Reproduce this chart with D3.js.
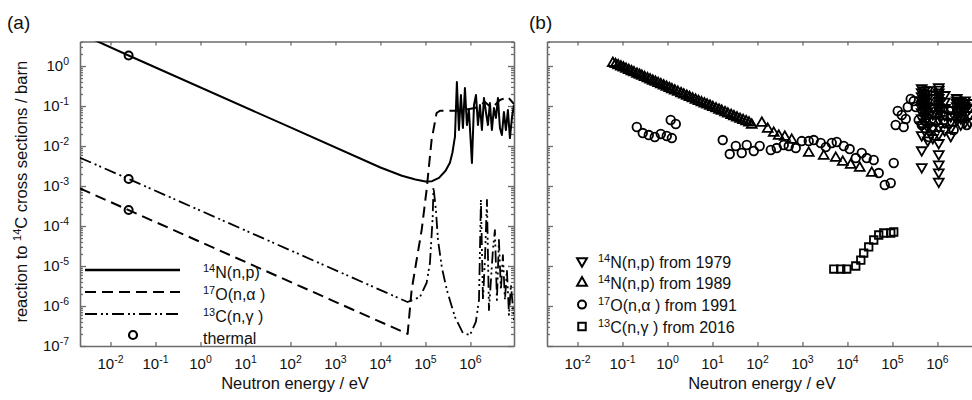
<!DOCTYPE html>
<html>
<head>
<meta charset="utf-8">
<script src="https://cdn.jsdelivr.net/npm/d3@7"></script>
<style>
body { margin: 0; background: #fff; }
svg { font-family: 'Liberation Sans', Arial, sans-serif; }
</style>
</head>
<body>
<script>
// tick exponents (labels are 10^n)
var xTickExps = [-2, -1, 0, 1, 2, 3, 4, 5, 6];
var yTickExps = [0, -1, -2, -3, -4, -5, -6, -7];

// (a) evaluated cross sections, [energy in eV, barn]
var np14Curve = [
	[0.0021, 6.5], [0.0253, 1.83], [100, 0.0291], [1e4, 0.0029], [3e4, 0.0018], [6e4, 0.00145],
	[1e5, 0.0013], [1.4e5, 0.00132], [2e5, 0.0016], [2.8e5, 0.0024], [3.5e5, 0.0038], [4e5, 0.007],
	[4.4e5, 0.014], [4.53e5, 0.0168], [5.0e5, 0.398], [5.55e5, 0.0251], [6.15e5, 0.188], [6.81e5, 0.0282],
	[7.55e5, 0.282], [8.36e5, 0.0335], [9.26e5, 0.0794], [1.08e6, 0.00376], [1.2e6, 0.106], [1.33e6, 0.188],
	[1.47e6, 0.0335], [1.63e6, 0.106], [1.8e6, 0.0251], [2.0e6, 0.158], [2.21e6, 0.0708], [2.45e6, 0.0335],
	[2.71e6, 0.119], [3.0e6, 0.0251], [3.33e6, 0.0891], [3.69e6, 0.0501], [4.09e6, 0.158], [4.53e6, 0.0282],
	[5.0e6, 0.0188], [5.55e6, 0.0708], [6.15e6, 0.0251], [6.81e6, 0.0794], [7.55e6, 0.0158], [8.36e6, 0.0501],
	[9.3e6, 0.106]
];
var na17Curve = [
	[0.0021, 8.7e-4], [0.0253, 2.5e-4], [4.02e4, 2.0e-7], [4.93e4, 2.51e-6], [6.37e4, 1.41e-5],
	[8.24e4, 7.9e-5], [1.06e5, 7.9e-4], [1.37e5, 0.0141], [1.77e5, 0.0668], [2.1e5, 0.076], [5.85e5, 0.076],
	[1.26e6, 0.089], [2.1e6, 0.126], [3.0e6, 0.089], [4.53e6, 0.141], [6.81e6, 0.168], [9.3e6, 0.112]
];
var ng13Curve = [
	[0.0021, 5.1e-3], [0.0253, 1.5e-3], [4.0e4, 1.26e-6], [7.55e4, 1.68e-6], [1.06e5, 3.76e-6],
	[1.26e5, 1.19e-5], [1.45e5, 1.68e-4], [1.51e5, 9.4e-4], [1.71e5, 2.5e-4], [1.9e5, 4.47e-5],
	[2.33e5, 8.9e-6], [3.0e5, 2.5e-6], [4.53e5, 5.3e-7], [6.81e5, 2.1e-7], [9.75e5, 1.88e-7],
	[1.32e6, 4.0e-7], [1.55e6, 1.41e-6], [1.71e6, 4.47e-4], [1.9e6, 1.41e-6], [2.1e6, 1.41e-5],
	[2.33e6, 4.47e-4], [2.58e6, 7.9e-7], [2.86e6, 4.47e-6], [3.16e6, 2.5e-5], [3.5e6, 7.9e-5],
	[3.88e6, 1.41e-6], [4.3e6, 4.47e-5], [4.76e6, 2.5e-6], [5.27e6, 1.88e-5], [5.85e6, 1.41e-6],
	[6.47e6, 7.9e-6], [7.2e6, 6.0e-7], [7.95e6, 3.35e-6], [9.3e6, 4.47e-7]
];
var thermalPoints = [[0.0253, 1.83], [0.0253, 1.5e-3], [0.0253, 2.5e-4]];

// (b) measured data, [energy in eV, barn]
var np1979Columns = [
	[4.48e5, [0.282, 0.224, 0.178, 0.141, 0.112, 0.089, 0.0708, 0.0501, 0.0335, 0.0188, 0.0079, 0.003]],
	[5.2e5, [0.251, 0.2, 0.158, 0.126, 0.1, 0.079, 0.056, 0.04, 0.025]],
	[6.1e5, [0.25, 0.2, 0.16, 0.126, 0.1, 0.075, 0.05, 0.03, 0.014]],
	[7.9e5, [0.089, 0.063, 0.045, 0.028, 0.016]],
	[1.07e6, [0.3, 0.26, 0.22, 0.19, 0.16, 0.135, 0.112, 0.094, 0.079, 0.063, 0.045, 0.03, 0.02, 0.012, 0.0063, 0.0035, 0.0022, 0.0013]],
	[1.45e6, [0.19, 0.13, 0.09, 0.06, 0.04, 0.025]],
	[1.98e6, [0.08, 0.056, 0.04, 0.028, 0.018]],
	[2.69e6, [0.16, 0.14, 0.12, 0.1, 0.08, 0.06, 0.045]],
	[3.3e6, [0.13, 0.1, 0.075, 0.05, 0.035]],
	[4.1e6, [0.14, 0.12, 0.1, 0.08, 0.06, 0.04]],
	[5.2e6, [0.12, 0.09, 0.06, 0.04]]
];
var np1989 = [
	[0.061, 1.18], [0.07, 1.1], [0.08, 1.03], [0.092, 0.96], [0.105, 0.9], [0.12, 0.84], [0.138, 0.783],
	[0.158, 0.732], [0.18, 0.686], [0.21, 0.635], [0.24, 0.594], [0.27, 0.56], [0.31, 0.523], [0.36, 0.485],
	[0.41, 0.454], [0.47, 0.424], [0.54, 0.396], [0.62, 0.37], [0.71, 0.345], [0.82, 0.321], [0.95, 0.299],
	[1.1, 0.277], [1.25, 0.26], [1.45, 0.242], [1.7, 0.223], [2.0, 0.206], [2.3, 0.192], [2.7, 0.177],
	[3.1, 0.165], [3.6, 0.153], [4.2, 0.142], [4.9, 0.131], [5.7, 0.122], [6.6, 0.114], [7.6, 0.107],
	[8.8, 0.1], [10.2, 0.093], [12, 0.086], [14, 0.08], [16, 0.075], [19, 0.069], [22, 0.064], [26, 0.059],
	[30, 0.055], [35, 0.051], [41, 0.047], [48, 0.044], [56, 0.041], [65, 0.038],
	[74.6, 0.0335], [125, 0.0376], [169, 0.0266], [230, 0.0211], [297, 0.0178], [405, 0.0168], [578, 0.0141],
	[1380, 0.00668], [2970, 0.00562], [5500, 0.00501], [7870, 0.00398], [11800, 0.00335], [18750, 0.00282],
	[34700, 0.00211]
];
var na1991 = [
	[0.208, 0.0299], [0.282, 0.0211], [0.384, 0.0188], [0.522, 0.0168], [0.71, 0.02], [0.964, 0.0178],
	[1.25, 0.0158], [1.18, 0.0447], [1.53, 0.0355],
	[16.9, 0.0141], [24.2, 0.0063], [33, 0.01], [44.8, 0.00668], [57.8, 0.0106], [82.8, 0.0075], [112, 0.01],
	[198, 0.00794], [269, 0.0089], [384, 0.0106], [496, 0.01], [710, 0.0089], [964, 0.0133], [1380, 0.0133],
	[1780, 0.0141], [2550, 0.0119], [3300, 0.0094], [4480, 0.0119], [5780, 0.0126], [8280, 0.01],
	[11200, 0.0084], [15300, 0.005], [20800, 0.00668], [26800, 0.005], [38400, 0.00447], [49600, 0.00211],
	[67500, 0.00106], [91700, 0.00119], [107000, 0.00376],
	[1.18e5, 0.0335], [1.31e5, 0.075], [1.61e5, 0.0596], [1.78e5, 0.0299], [1.98e5, 0.0473], [2.19e5, 0.0944],
	[2.55e5, 0.15], [2.97e5, 0.133], [3.3e5, 0.0944], [3.84e5, 0.0447], [4.48e5, 0.0335], [6.41e5, 0.0168],
	[7.47e5, 0.0299], [9.64e5, 0.063], [1.38e6, 0.0447], [1.78e6, 0.079], [2.3e6, 0.025], [3.3e6, 0.05],
	[4.48e6, 0.0335]
];
var ng2016 = [
	[4970, 8.4e-6], [7100, 8.4e-6], [9640, 8.4e-6], [15300, 1.0e-5], [19800, 1.41e-5], [23000, 2.11e-5],
	[29700, 2.99e-5], [38400, 4.47e-5], [49600, 5.96e-5], [64100, 6.68e-5], [91700, 6.68e-5], [107000, 7.08e-5]
];

// legend texts: [superscript, rest]
var legendA = [['14', 'N(n,p)'], ['17', 'O(n,\u03b1 )'], ['13', 'C(n,\u03b3 )'], ['', 'thermal']];
var legendB = [['14', 'N(n,p) from 1979'], ['14', 'N(n,p) from 1989'], ['17', 'O(n,\u03b1 ) from 1991'], ['13', 'C(n,\u03b3 ) from 2016']];

var width = 972, height = 400;
var plotTop = 41.5, plotH = 304.5, plotW = 434;
var axisColor = '#6b6b6b';

var svg = d3
	.select('body')
	.append('svg')
	.attr('width', width)
	.attr('height', height);

var y = d3.scaleLog().domain([1e-7, 4.1]).range([plotTop + plotH, plotTop]);

var minorY = [];
yTickExps.forEach(e => {
	for (var k = 2; k < 10; k++) {
		var v = k * Math.pow(10, e);
		if (v < 4.1) minorY.push(v);
	}
});
var majorX = xTickExps.map(e => Math.pow(10, e));
var majorY = yTickExps.map(e => Math.pow(10, e));

function makePanel(left, id) {
	var x = d3.scaleLog().domain([0.0021, 9.3e6]).range([left, left + plotW]);
	var g = svg.append('g');

	svg.append('clipPath').attr('id', id)
		.append('rect').attr('x', left).attr('y', plotTop).attr('width', plotW).attr('height', plotH);

	// box + inward ticks
	g.append('g').attr('transform', 'translate(0,' + (plotTop + plotH) + ')')
		.call(d3.axisBottom(x).tickValues(majorX).tickSize(-4).tickSizeOuter(0).tickFormat(''));
	g.append('g').attr('transform', 'translate(0,' + plotTop + ')')
		.call(d3.axisTop(x).tickValues(majorX).tickSize(-4).tickSizeOuter(0).tickFormat(''));
	g.append('g').attr('transform', 'translate(' + left + ',0)')
		.call(d3.axisLeft(y).tickValues(majorY).tickSize(-6).tickSizeOuter(0).tickFormat(''));
	g.append('g').attr('transform', 'translate(' + left + ',0)')
		.call(d3.axisLeft(y).tickValues(minorY).tickSize(-3).tickSizeOuter(0).tickFormat(''));
	g.append('g').attr('transform', 'translate(' + (left + plotW) + ',0)')
		.call(d3.axisRight(y).tickValues(majorY).tickSize(-6).tickSizeOuter(0).tickFormat(''));
	g.append('g').attr('transform', 'translate(' + (left + plotW) + ',0)')
		.call(d3.axisRight(y).tickValues(minorY).tickSize(-3).tickSizeOuter(0).tickFormat(''));
	g.selectAll('.domain, .tick line').attr('stroke', axisColor).attr('stroke-width', 1.3);

	// x tick labels 10^n
	var xl = svg.append('g').selectAll('text')
		.data(xTickExps)
		.enter()
		.append('text')
		.attr('x', d => x(Math.pow(10, d)))
		.attr('y', 369)
		.attr('text-anchor', 'middle')
		.style('font-size', '15px')
		.attr('fill', '#111');
	xl.append('tspan').text('10');
	xl.append('tspan').attr('dy', -6).style('font-size', '10.5px').text(d => d);

	svg.append('text')
		.attr('x', left + plotW / 2 - 2)
		.attr('y', 389)
		.attr('text-anchor', 'middle')
		.style('font-size', '16.5px')
		.attr('fill', '#111')
		.text('Neutron energy / eV');

	return x;
}

var xa = makePanel(80, 'clipA');
var xb = makePanel(547, 'clipB');

// y tick labels on (a)
var yl = svg.append('g').selectAll('text')
	.data(yTickExps)
	.enter()
	.append('text')
	.attr('x', 69)
	.attr('y', d => y(Math.pow(10, d)) + 5)
	.attr('text-anchor', 'end')
	.style('font-size', '15px')
	.attr('fill', '#111');
yl.append('tspan').text('10');
yl.append('tspan').attr('dy', -6).style('font-size', '10.5px').text(d => d);

// y axis label
var ylab = svg.append('text')
	.attr('transform', 'translate(27,' + (plotTop + plotH / 2 - 2) + ') rotate(-90)')
	.attr('text-anchor', 'middle')
	.style('font-size', '16.5px')
	.attr('fill', '#111');
ylab.append('tspan').text('reaction to ');
ylab.append('tspan').attr('dy', -6).style('font-size', '11px').text('14');
ylab.append('tspan').attr('dy', 6).text('C cross sections / barn');

// panel letters
svg.append('text').attr('x', 7).attr('y', 29).style('font-size', '19px').attr('fill', '#111').text('(a)');
svg.append('text').attr('x', 529).attr('y', 29).style('font-size', '19px').attr('fill', '#111').text('(b)');

// ---- panel (a) curves
var lineA = d3.line().x(d => xa(d[0])).y(d => y(d[1]));
var styles = [
	{ data: np14Curve, dash: null, w: 2 },
	{ data: na17Curve, dash: '11,6', w: 2 },
	{ data: ng13Curve, dash: '12,4,2,3,2,4', w: 1.8 }
];
var curves = svg.append('g').attr('clip-path', 'url(#clipA)');
styles.forEach(s => {
	curves.append('path')
		.attr('d', lineA(s.data))
		.attr('fill', 'none')
		.attr('stroke', '#000')
		.attr('stroke-width', s.w)
		.attr('stroke-linejoin', 'round')
		.attr('stroke-dasharray', s.dash);
});
curves.selectAll('circle')
	.data(thermalPoints)
	.enter()
	.append('circle')
	.attr('cx', d => xa(d[0]))
	.attr('cy', d => y(d[1]))
	.attr('r', 4)
	.attr('fill', 'none')
	.attr('stroke', '#000')
	.attr('stroke-width', 2);

// legend (a)
var legA = svg.append('g');
legendA.forEach((d, i) => {
	var cy = 270 + i * 22;
	if (i < 3) {
		legA.append('line')
			.attr('x1', 85).attr('x2', 180).attr('y1', cy).attr('y2', cy)
			.attr('stroke', '#000')
			.attr('stroke-width', i == 0 ? 2.5 : 2.2)
			.attr('stroke-dasharray', styles[i].dash);
	} else {
		legA.append('circle').attr('cx', 133).attr('cy', cy - 1).attr('r', 4)
			.attr('fill', 'none').attr('stroke', '#000').attr('stroke-width', 2.2);
	}
	var t = legA.append('text').attr('x', 203).attr('y', cy + 7.5).style('font-size', '16px').attr('fill', '#111');
	if (d[0]) {
		t.append('tspan').attr('dy', -6).style('font-size', '11px').text(d[0]);
		t.append('tspan').attr('dy', 6).text(d[1]);
	} else {
		t.text(d[1]);
	}
});

// ---- panel (b) markers
var tri = d3.symbol().type(d3.symbolTriangle).size(42)();
var sq = d3.symbol().type(d3.symbolSquare).size(56)();
var np1979 = [];
np1979Columns.forEach(c => c[1].forEach(v => np1979.push([c[0], v])));

var marks = svg.append('g').attr('clip-path', 'url(#clipB)');
function addSymbols(data, path, rot) {
	marks.append('g').selectAll('path')
		.data(data)
		.enter()
		.append('path')
		.attr('d', path)
		.attr('transform', d => 'translate(' + xb(d[0]) + ',' + y(d[1]) + ') rotate(' + rot + ')')
		.attr('fill', 'none')
		.attr('stroke', '#000')
		.attr('stroke-width', 1.8);
}
addSymbols(np1989, tri, 0);
addSymbols(np1979, tri, 180);
marks.append('g').selectAll('circle')
	.data(na1991)
	.enter()
	.append('circle')
	.attr('cx', d => xb(d[0]))
	.attr('cy', d => y(d[1]))
	.attr('r', 4.3)
	.attr('fill', 'none')
	.attr('stroke', '#000')
	.attr('stroke-width', 1.8);
addSymbols(ng2016, sq, 0);

// legend (b)
var legB = svg.append('g');
var legSyms = [[tri, 180], [tri, 0], [null, 0], [sq, 0]];
legendB.forEach((d, i) => {
	var cy = 261 + i * 21.8;
	if (legSyms[i][0]) {
		legB.append('path').attr('d', legSyms[i][0])
			.attr('transform', 'translate(582,' + cy + ') rotate(' + legSyms[i][1] + ')')
			.attr('fill', 'none').attr('stroke', '#000').attr('stroke-width', 2);
	} else {
		legB.append('circle').attr('cx', 582).attr('cy', cy).attr('r', 4)
			.attr('fill', 'none').attr('stroke', '#000').attr('stroke-width', 2);
	}
	var t = legB.append('text').attr('x', 598).attr('y', cy + 6.5).style('font-size', '16px').attr('fill', '#111');
	t.append('tspan').attr('dy', -6).style('font-size', '11px').text(d[0]);
	t.append('tspan').attr('dy', 6).text(d[1]);
});
</script>
</body>
</html>
